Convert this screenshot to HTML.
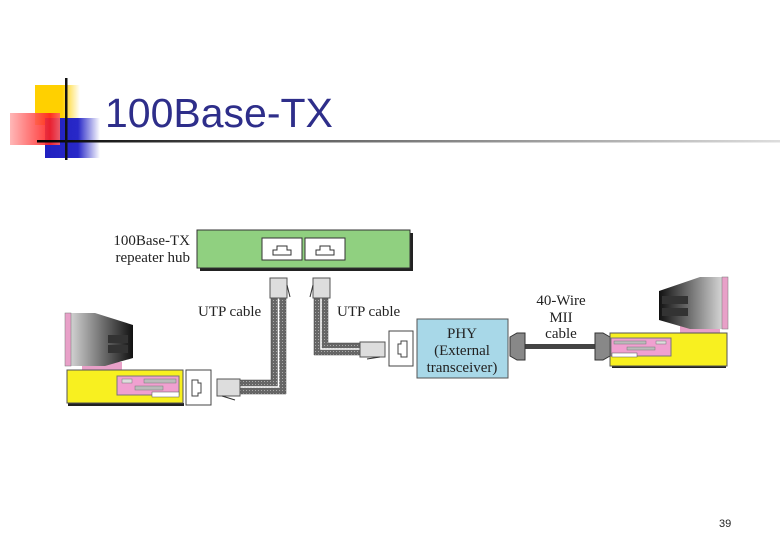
<!DOCTYPE html>
<html><head><meta charset="utf-8"><style>
html,body{margin:0;padding:0;background:#fff;}
svg{display:block;}
text{font-family:"Liberation Serif",serif;}
</style></head><body>
<svg width="780" height="540" viewBox="0 0 780 540" xmlns="http://www.w3.org/2000/svg">
<defs>
<linearGradient id="yel" x1="0" x2="1"><stop offset="0" stop-color="#ffd000"/><stop offset="0.6" stop-color="#ffd000"/><stop offset="1" stop-color="#fff"/></linearGradient>
<linearGradient id="red" x1="0" x2="1"><stop offset="0" stop-color="#ffb0b0"/><stop offset="0.8" stop-color="#ff2020"/><stop offset="1" stop-color="#ff6060"/></linearGradient>
<linearGradient id="blu" x1="0" x2="1"><stop offset="0" stop-color="#2020c0"/><stop offset="0.6" stop-color="#2828c8"/><stop offset="1" stop-color="#fff"/></linearGradient>
<linearGradient id="hl" x1="0" x2="1"><stop offset="0" stop-color="#000"/><stop offset="0.3" stop-color="#555"/><stop offset="1" stop-color="#ddd"/></linearGradient>
<linearGradient id="monL" x1="0" x2="1"><stop offset="0" stop-color="#ddd"/><stop offset="1" stop-color="#111"/></linearGradient>
<linearGradient id="monR" x1="1" x2="0"><stop offset="0" stop-color="#ddd"/><stop offset="1" stop-color="#111"/></linearGradient>
<pattern id="cab" width="3" height="3" patternUnits="userSpaceOnUse"><rect width="3" height="3" fill="#666"/><rect width="1" height="1" fill="#aaa"/></pattern>
</defs>
<rect x="35" y="85" width="45" height="40" fill="url(#yel)"/>
<rect x="45" y="118" width="55" height="40" fill="url(#blu)"/>
<rect x="10" y="113" width="50" height="32" fill="url(#red)" opacity="0.9"/>
<rect x="37" y="140" width="743" height="2.5" fill="url(#hl)"/>
<rect x="65" y="78" width="2.5" height="82" fill="#111"/>
<text x="105" y="127" style="font-family:'Liberation Sans',sans-serif" font-size="41" fill="#2e2e8a">100Base-TX</text>

<rect x="200" y="233" width="213" height="38" fill="#222"/>
<rect x="197" y="230" width="213" height="38" fill="#90d080" stroke="#333"/>
<g fill="#fff" stroke="#333">
<rect x="262" y="238" width="40" height="22"/><rect x="305" y="238" width="40" height="22"/></g>
<g fill="none" stroke="#333"><path d="M273 255 v-5 h4 v-4 h10 v4 h4 v5 z"/><path d="M316 255 v-5 h4 v-4 h10 v4 h4 v5 z"/></g>
<g font-size="15" fill="#222" text-anchor="end"><text x="190" y="245">100Base-TX</text><text x="190" y="262">repeater hub</text></g>

<path d="M271 298 V380 H240 V394 H286 V298 Z" fill="url(#cab)" stroke="#444" stroke-width="0.5"/>
<path d="M278.5 298 V387 H240" fill="none" stroke="#fff" stroke-width="1.5"/>
<rect x="270" y="278" width="17" height="20" fill="#ddd" stroke="#555"/>
<line x1="287" y1="285" x2="290" y2="297" stroke="#333"/>
<rect x="217" y="379" width="23" height="17" fill="#ddd" stroke="#555"/>
<line x1="222" y1="396" x2="235" y2="400" stroke="#333"/>
<path d="M314 298 V355 H360 V343 H328 V298 Z" fill="url(#cab)" stroke="#444" stroke-width="0.5"/>
<path d="M321 298 V349 H360" fill="none" stroke="#fff" stroke-width="1.5"/>
<rect x="313" y="278" width="17" height="20" fill="#ddd" stroke="#555"/>
<line x1="313" y1="285" x2="310" y2="297" stroke="#333"/>
<rect x="360" y="342" width="25" height="15" fill="#ddd" stroke="#555"/>
<line x1="367" y1="359" x2="380" y2="357" stroke="#333"/>
<g font-size="15" fill="#222"><text x="198" y="316">UTP cable</text><text x="337" y="316">UTP cable</text></g>

<rect x="186" y="370" width="25" height="35" fill="#fff" stroke="#444"/>
<path d="M192 380 h6 v3 h3 v10 h-3 v3 h-6 z" fill="none" stroke="#444"/>
<rect x="389" y="331" width="24" height="35" fill="#fff" stroke="#444"/>
<path d="M407 341 h-6 v3 h-3 v10 h3 v3 h6 z" fill="none" stroke="#444"/>

<rect x="68" y="403" width="116" height="3" fill="#222"/>
<rect x="82" y="362" width="40" height="8" fill="#e8a0c8"/>
<path d="M67 313 H95 L133 325 V358 L105 366 H67 Z" fill="url(#monL)"/>
<rect x="65" y="313" width="6" height="53" fill="#e8a0c8" stroke="#777" stroke-width="0.5"/>
<g fill="#333"><rect x="108" y="335" width="20" height="8"/><rect x="108" y="345" width="20" height="8"/></g>
<rect x="67" y="370" width="116" height="33" fill="#f8f020" stroke="#555"/>
<rect x="117" y="376" width="62" height="19" fill="#f0a0d0" stroke="#777"/>
<rect x="122" y="379" width="10" height="4" fill="#ddd" stroke="#777" stroke-width="0.5"/>
<rect x="144" y="379" width="32" height="4" fill="#bbb" stroke="#777" stroke-width="0.5"/>
<rect x="135" y="386" width="28" height="4" fill="#bbb" stroke="#777" stroke-width="0.5"/>
<rect x="152" y="392" width="27" height="5" fill="#fff" stroke="#555" stroke-width="0.5"/>

<rect x="417" y="319" width="91" height="59" fill="#a8d8e8" stroke="#555"/>
<g font-size="15" fill="#222" text-anchor="middle"><text x="462" y="338">PHY</text><text x="462" y="355">(External</text><text x="462" y="372">transceiver)</text></g>

<rect x="524" y="344" width="72" height="5" fill="#444"/>
<path d="M510 337 L517 333 H525 V360 H517 L510 356 Z" fill="#888" stroke="#333"/>
<path d="M610 337 L603 333 H595 V360 H603 L610 356 Z" fill="#888" stroke="#333"/>
<g font-size="15" fill="#222" text-anchor="middle"><text x="561" y="305">40-Wire</text><text x="561" y="322">MII</text><text x="561" y="338">cable</text></g>

<rect x="612" y="365" width="114" height="3" fill="#222"/>
<rect x="680" y="326" width="40" height="8" fill="#e8a0c8"/>
<path d="M725 277 H700 L659 291 V320 L690 329 H725 Z" fill="url(#monR)"/>
<rect x="722" y="277" width="6" height="52" fill="#e8a0c8" stroke="#777" stroke-width="0.5"/>
<g fill="#333"><rect x="662" y="296" width="26" height="8"/><rect x="662" y="308" width="26" height="8"/></g>
<rect x="610" y="333" width="117" height="33" fill="#f8f020" stroke="#555"/>
<rect x="611" y="338" width="60" height="18" fill="#f0a0d0" stroke="#777"/>
<rect x="614" y="341" width="32" height="3" fill="#bbb" stroke="#777" stroke-width="0.5"/>
<rect x="656" y="341" width="10" height="3" fill="#ddd" stroke="#777" stroke-width="0.5"/>
<rect x="627" y="347" width="28" height="3" fill="#bbb" stroke="#777" stroke-width="0.5"/>
<rect x="612" y="353" width="25" height="4" fill="#fff" stroke="#555" stroke-width="0.5"/>

<text x="719" y="527" font-size="11" style="font-family:'Liberation Sans',sans-serif" fill="#222">39</text>
</svg>
</body></html>
